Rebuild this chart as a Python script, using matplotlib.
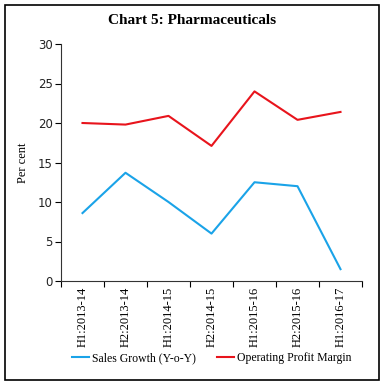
import matplotlib
matplotlib.use("Agg")
import matplotlib.pyplot as plt
from matplotlib.patches import Rectangle
import numpy as np

categories = ["H1:2013-14", "H2:2013-14", "H1:2014-15", "H2:2014-15",
              "H1:2015-16", "H2:2015-16", "H1:2016-17"]
sales_growth = [8.6, 13.7, 10.0, 6.0, 12.5, 12.0, 1.5]
op_margin = [20.0, 19.8, 20.9, 17.1, 24.0, 20.4, 21.4]

plt.rcParams['font.family'] = ['Liberation Serif', 'DejaVu Serif']

fig = plt.figure(figsize=(3.84, 3.86), dpi=100)
ax = fig.add_axes([61/384, 1-281/386, (362-61)/384, (281-44)/386])

x = np.arange(len(categories))
ax.plot(x, sales_growth, color='#1aa3e8', lw=1.5, label='Sales Growth (Y-o-Y)')
ax.plot(x, op_margin, color='#e8141c', lw=1.5, label='Operating Profit Margin')

ax.set_xlim(-0.5, len(categories) - 0.5)
ax.set_ylim(0, 30)
ax.set_yticks([0, 5, 10, 15, 20, 25, 30])
ax.set_yticklabels([str(v) for v in [0, 5, 10, 15, 20, 25, 30]],
                   family='DejaVu Sans', fontsize=8.5, color='#222222')
ax.set_xticks(np.arange(-0.5, len(categories)), minor=False)
ax.set_xticklabels([])
ax.set_xticks(x, minor=True)
ax.set_xticklabels(categories, minor=True, rotation=90, fontsize=9)
ax.tick_params(axis='x', which='minor', length=0, pad=4)
ax.tick_params(axis='x', which='major', length=4, direction='out')
ax.tick_params(axis='y', length=4, direction='out', pad=2)
ax.spines['top'].set_visible(False)
ax.spines['right'].set_visible(False)
for s in ['left', 'bottom']:
    ax.spines[s].set_color('#333333')
ax.set_ylabel('Per cent', fontsize=9, labelpad=6)

fig.text(0.5, 1-20/386, 'Chart 5: Pharmaceuticals', ha='center', va='center',
         fontsize=11, fontweight='bold')

fig.legend(loc='center', bbox_to_anchor=(212/384, 1-358/386), ncol=2, frameon=False,
           fontsize=8.5, handlelength=1.4, columnspacing=1.8, handletextpad=0.3)

fig.patches.append(Rectangle((5/384, 1-380/386), 374/384, 375/386, transform=fig.transFigure,
                             fill=False, edgecolor='black', lw=1.2))

fig.savefig('out.png', dpi=100)
